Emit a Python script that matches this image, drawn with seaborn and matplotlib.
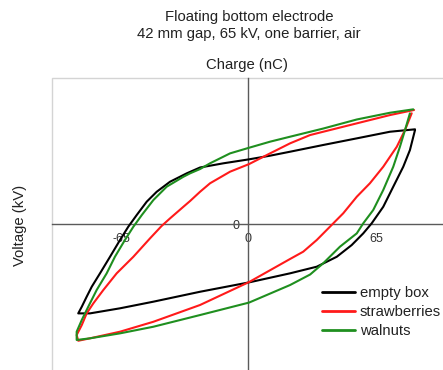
import numpy as np
import pandas as pd
import matplotlib
matplotlib.use("Agg")
import matplotlib.pyplot as plt
import seaborn as sns
from matplotlib.patches import Rectangle

# Lissajous loops: voltage (kV) vs charge (nC), traced once around each cycle
empty_box_voltage = [84.9, 72.1, 55.2, 38.1, 21.2, 11.0, 0.3, -12.8, -24.7, -31.5, -40.0,
                     -46.8, -51.9, -57.0, -61.3, -65.5, -70.6, -75.7, -79.9, -82.5, -85.0,
                     -86.8, -80.8, -65.5, -48.5, -24.7, 0.3, 21.2, 34.8, 45.0, 52.6, 58.5,
                     62.8, 68.7, 73.8, 78.9, 82.3, 84.9]
empty_box_charge = [86.1, 83.9, 77.9, 71.9, 65.8, 62.2, 58.9, 55.3, 51.5, 46.2, 38.6,
                    29.5, 20.5, 8.4, -2.2, -14.2, -29.4, -44.4, -56.5, -65.6, -74.7,
                    -80.7, -80.7, -76.1, -70.1, -61.1, -52.6, -44.4, -38.4, -29.4, -18.8, -8.2,
                    0.9, 15.9, 34.1, 52.2, 67.3, 85.5]

strawberries_voltage = [84.4, 72.1, 55.2, 38.1, 31.4, 21.2, 11.0, 0.3, -9.4, -19.6, -24.7,
                        -29.8, -33.2, -40.0, -44.3, -50.2, -58.7, -67.2, -74.0, -79.1, -82.5,
                        -85.0, -87.6, -86.8, -80.8, -65.5, -48.5, -24.7, 0.3, 21.2, 27.9,
                        34.8, 41.5, 48.3, 55.2, 61.9, 68.7, 75.6, 79.8, 83.2]
strawberries_charge = [103.6, 99.0, 91.5, 83.9, 80.9, 73.4, 64.3, 54.6, 47.7, 37.2, 29.5,
                       21.1, 15.9, 5.4, -1.5, -12.7, -29.4, -44.4, -59.5, -71.6, -80.7,
                       -91.3, -100.3, -105.5, -103.3, -97.3, -88.3, -73.1, -52.3, -31.4, -24.8,
                       -14.2, -2.2, 10.0, 25.0, 37.2, 52.2, 70.3, 85.5, 100.6]

walnuts_voltage = [84.0, 72.1, 55.2, 38.1, 21.2, 11.0, 0.3, -9.4, -19.6, -24.7, -29.8,
                   -33.2, -41.7, -48.5, -54.4, -58.7, -63.0, -68.1, -72.3, -77.4, -81.7,
                   -85.0, -87.6, -87.6, -80.8, -65.5, -48.5, -24.7, 0.3, 21.2, 31.4, 38.1,
                   46.6, 55.2, 58.5, 63.6, 68.7, 73.8, 77.2, 79.8, 82.3]
walnuts_charge = [104.2, 101.1, 95.0, 86.8, 79.4, 74.9, 69.4, 64.3, 55.3, 50.1, 46.2,
                  43.1, 34.1, 22.0, 8.4, -2.2, -14.2, -29.4, -44.4, -59.5, -74.7,
                  -86.7, -97.3, -104.8, -103.3, -98.8, -92.8, -82.2, -70.9, -55.0, -45.5,
                  -35.3, -20.3, -8.2, 0.9, 13.0, 31.1, 52.2, 70.3, 85.5, 100.6]

series_names = ["empty box", "strawberries", "walnuts"]
series_colors = ["#000000", "#ff1a1a", "#1f8f1f"]

x_ticks = [-97.5, -65, -32.5, 0, 32.5, 65, 97.5]
x_tick_labels = ["", "-65", "", "0", "", "65", ""]
y_ticks = [-100, 0, 100]
y_tick_labels = ["", "0", ""]

frames = []
for name, v, q in [("empty box", empty_box_voltage, empty_box_charge),
                   ("strawberries", strawberries_voltage, strawberries_charge),
                   ("walnuts", walnuts_voltage, walnuts_charge)]:
    frames.append(pd.DataFrame({"voltage": v, "charge": q, "sample": name,
                                "step": np.arange(len(v))}))
df = pd.concat(frames, ignore_index=True)

sns.set_style("white")
plt.rcParams["font.family"] = ["Liberation Sans", "DejaVu Sans"]

fig = plt.figure(figsize=(4.43, 3.70), dpi=100)
W, H = 443, 370
ax = fig.add_axes([52.35 / W, (370 - 373.3) / H, 392.3 / W, 295.3 / H])

sns.lineplot(data=df, x="voltage", y="charge", hue="sample", hue_order=series_names,
             palette=series_colors, sort=False, estimator=None, units="sample",
             linewidth=1.5, ax=ax, legend=True)

ax.set_xlim(-100, 100)
ax.set_ylim(-135, 132.6)

# light outer frame of the plot area
ax.add_patch(Rectangle((0, 0), 1, 1, transform=ax.transAxes, fill=False,
                       edgecolor="#d4d4d4", linewidth=1.0, zorder=0, clip_on=False))

# axes crossing at the origin
for side in ["top", "right"]:
    ax.spines[side].set_visible(False)
ax.spines["left"].set_position(("data", 0))
ax.spines["bottom"].set_position(("data", 0))
for side in ["left", "bottom"]:
    ax.spines[side].set_color("#5a5a5a")
    ax.spines[side].set_linewidth(1.0)
    ax.spines[side].set_zorder(1)

ax.set_xticks(x_ticks)
ax.set_xticklabels(x_tick_labels)
ax.set_yticks(y_ticks)
ax.set_yticklabels(y_tick_labels)
ax.tick_params(axis="both", direction="out", length=3.5, width=1.0, color="#5a5a5a",
               labelsize=9, labelcolor="#333333", pad=3)
ax.set_xlabel("")
ax.set_ylabel("")

fig.text(249 / W, 1 - 17 / H, "Floating bottom electrode", ha="center", va="center",
         fontsize=10.7, color="#222222")
fig.text(249 / W, 1 - 34 / H, "42 mm gap, 65 kV, one barrier, air", ha="center",
         va="center", fontsize=10.7, color="#222222")
fig.text(247 / W, 1 - 65 / H, "Charge (nC)", ha="center", va="center", fontsize=10.7,
         color="#222222")
fig.text(20 / W, 1 - 225 / H, "Voltage (kV)", ha="center", va="center", rotation=90,
         fontsize=10.7, color="#222222")

leg = ax.legend(loc="upper left", bbox_to_anchor=(322 / W, 1 - 286 / H),
                bbox_transform=fig.transFigure, frameon=False, fontsize=10.7,
                handlelength=2.2, handletextpad=0.35, labelspacing=0.33,
                borderaxespad=0, borderpad=0)
for line in leg.get_lines():
    line.set_linewidth(2.0)
for t in leg.get_texts():
    t.set_color("#222222")

fig.savefig("out.png", dpi=100)
